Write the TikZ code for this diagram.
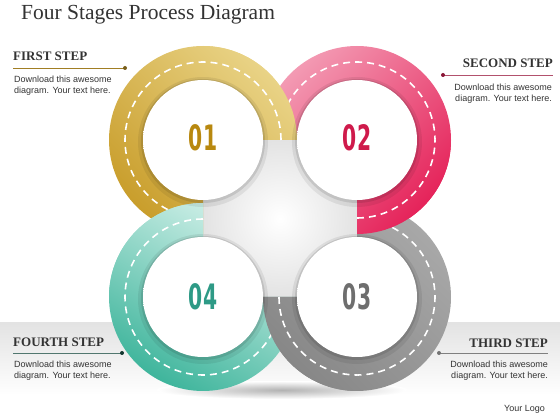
\documentclass[tikz,border=0pt]{standalone}
\usepackage{fontspec}
\setmainfont{Liberation Serif}
\setsansfont{Liberation Sans}
\newfontfamily\numfont{DejaVu Sans}[FakeStretch=0.58]
\definecolor{goldD}{HTML}{C99E2C}
\definecolor{goldL}{HTML}{E9D386}
\definecolor{pinkD}{HTML}{E5235A}
\definecolor{pinkL}{HTML}{F39AB3}
\definecolor{grayD}{HTML}{878787}
\definecolor{grayL}{HTML}{A8A8A8}
\definecolor{tealD}{HTML}{3FB59C}
\definecolor{tealL}{HTML}{D3F1EA}
\definecolor{num1}{HTML}{B8880F}
\definecolor{num2}{HTML}{CF1A4B}
\definecolor{num3}{HTML}{6E6E6E}
\definecolor{num4}{HTML}{2E9A86}
\definecolor{cupmid}{HTML}{EDEDED}
\definecolor{cupedge}{HTML}{BEBEBE}
\pgfdeclareradialshading{cupshade}{\pgfpoint{0bp}{-2bp}}{color(0bp)=(white); color(30bp)=(white); color(44bp)=(cupmid); color(50bp)=(cupedge)}
\begin{document}
\begin{tikzpicture}[x=1pt,y=1pt]
  \tikzstyle{heading}=[font=\bfseries\fontsize{13}{13}\selectfont, text=black!80, inner sep=0pt]
  \tikzstyle{blurb}=[font=\sffamily\fontsize{9}{10.5}\selectfont, text=black!80, inner sep=0pt]
  \tikzstyle{dashline}=[white, line width=1.6pt, dash pattern=on 7pt off 5pt]
  \tikzstyle{number}=[font=\numfont\bfseries\fontsize{35}{35}\selectfont, inner sep=0pt]
  \useasboundingbox (0,0) rectangle (560,420);
  % backdrop
  \shade[top color=gray!22, bottom color=white] (0,25) rectangle (560,97);
  \shade[inner color=gray!60, outer color=white] (282,30) ellipse (125 and 9);
  % ring centres
  \coordinate (c1) at (203,280);
  \coordinate (c2) at (357,280);
  \coordinate (c3) at (357,123);
  \coordinate (c4) at (203,123);
  \shade[inner color=white, outer color=gray!22] (c4) rectangle (c2);
  % rings
  \foreach \c/\a/\lc/\dc/\sa in {c1/0/goldL/goldD/-45, c2/-90/pinkL/pinkD/45, c3/180/grayL/grayD/-45, c4/90/tealL/tealD/-30}{
    \shade[top color=\lc, bottom color=\dc, shading angle=\sa] (\c) -- ++(\a:94) arc[start angle=\a, delta angle=270, radius=94] -- cycle;
    \draw[dashline] (\c) ++(\a:78) arc[start angle=\a, delta angle=270, radius=78];
  }
  % start of each ring lies over the next one
  \foreach \c/\a/\lc/\dc/\sa in {c1/0/goldL/goldD/-45, c2/-90/pinkL/pinkD/45, c3/180/grayL/grayD/-45, c4/90/tealL/tealD/-30}{
    \begin{scope}
      \clip (\c) -- ++(\a:100) arc[start angle=\a, delta angle=90, radius=100] -- cycle;
      \shade[top color=\lc, bottom color=\dc, shading angle=\sa] (\c) -- ++(\a:94) arc[start angle=\a, delta angle=270, radius=94] -- cycle;
      \draw[dashline] (\c) ++(\a:78) arc[start angle=\a, delta angle=270, radius=78];
    \end{scope}
  }
  % inner discs
  \foreach \c in {c1,c2,c3,c4}{
    \fill[black, opacity=0.07] ([yshift=-2]\c) circle (65);
    \fill[black, opacity=0.10] ([yshift=-1]\c) circle (62);
    \shade[shading=cupshade] (\c) circle (60);
  }
  \node[number, text=num1] (n1) at ([yshift=2]c1) {01};
  \node[number, text=num2] (n2) at ([yshift=2]c2) {02};
  \node[number, text=num3] (n3) at (c3) {03};
  \node[number, text=num4] (n4) at (c4) {04};
  % title
  \node[font=\fontsize{21.5}{21.5}\selectfont, text=black!80, anchor=base west, inner sep=0pt] (title) at (21,400) {Four Stages Process Diagram};
  % first step
  \node[heading, anchor=base west] (h1) at (13,359) {FIRST STEP};
  \coordinate (l1) at (13,352);
  \coordinate (p1) at (125,352);
  \draw[line width=0.8pt, draw=goldD!80!black] (l1) -- (p1);
  \fill[goldD!60!black] (p1) circle (2);
  \node[blurb, anchor=base west, align=left] (b1) at (14,326.5) {Download this awesome\\diagram. Your text here.};
  % second step
  \node[heading, anchor=base east] (h2) at (553,352) {SECOND STEP};
  \coordinate (p2) at (443,345);
  \coordinate (l2) at (553,345);
  \draw[line width=0.8pt, draw=pinkD!50!gray] (p2) -- (l2);
  \fill[pinkD!60!black] (p2) circle (2);
  \node[blurb, anchor=base east, align=right] (b2) at (552,318.5) {Download this awesome\\diagram. Your text here.};
  % fourth step
  \node[heading, anchor=base west] (h4) at (13,73) {FOURTH STEP};
  \coordinate (l4) at (13,67);
  \coordinate (p4) at (122,67);
  \draw[line width=0.8pt, draw=tealD!40!gray!80!black] (l4) -- (p4);
  \fill[tealD!30!black] (p4) circle (2);
  \node[blurb, anchor=base west, align=left] (b4) at (14,41.8) {Download this awesome\\diagram. Your text here.};
  % third step
  \node[heading, anchor=base east] (h3) at (548,72) {THIRD STEP};
  \coordinate (p3) at (439,67);
  \coordinate (l3) at (548,67);
  \draw[line width=0.8pt, draw=gray] (p3) -- (l3);
  \fill[gray!90!black] (p3) circle (2);
  \node[blurb, anchor=base east, align=right] (b3) at (548,41.5) {Download this awesome\\diagram. Your text here.};
  \node[blurb, anchor=base east] (logo) at (545,8) {Your Logo};
\end{tikzpicture}
\end{document}
